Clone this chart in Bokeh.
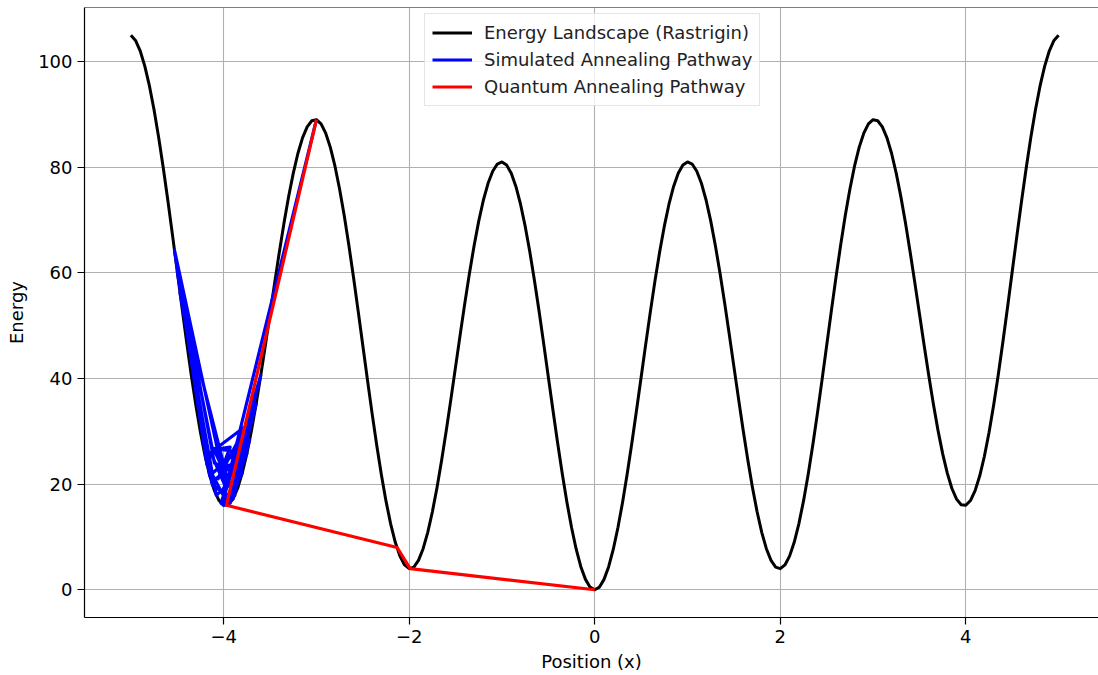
from bokeh.plotting import figure
from bokeh.models import Range1d, Legend, LegendItem, CustomJSTickFormatter, FixedTicker, Span
from bokeh.embed import file_html
from bokeh.resources import INLINE

# ---- data ----
position = [round(-5 + 0.05 * i, 2) for i in range(201)]
energy = [
    105.00, 104.01, 102.05, 99.16, 95.40, 90.85, 85.60, 79.78, 73.52, 66.96,
    60.25, 53.55, 47.00, 40.76, 34.98, 29.78, 25.28, 21.58, 18.77, 16.89,
    16.00, 16.09, 17.17, 19.18, 22.08, 25.78, 30.18, 35.16, 40.60, 46.35,
    52.25, 58.16, 63.92, 69.38, 74.40, 78.85, 82.60, 85.56, 87.65, 88.81,
    89.00, 88.21, 86.45, 83.76, 80.20, 75.85, 70.80, 65.18, 59.12, 52.76,
    46.25, 39.75, 33.40, 27.36, 21.78, 16.78, 12.48, 8.98, 6.37, 4.70,
    4.00, 4.30, 5.57, 7.78, 10.88, 14.78, 19.38, 24.56, 30.20, 36.15,
    42.25, 48.36, 54.32, 59.98, 65.20, 69.85, 73.80, 76.96, 79.25, 80.61,
    81.00, 80.41, 78.85, 76.36, 73.00, 68.85, 64.00, 58.58, 52.72, 46.56,
    40.25, 33.95, 27.80, 21.96, 16.58, 11.78, 7.68, 4.38, 1.97, 0.49,
    0.00,
    0.49, 1.97, 4.38, 7.68, 11.78, 16.58, 21.96, 27.80, 33.95, 40.25,
    46.56, 52.72, 58.58, 64.00, 68.85, 73.00, 76.36, 78.85, 80.41, 81.00,
    80.61, 79.25, 76.96, 73.80, 69.85, 65.20, 59.98, 54.32, 48.36, 42.25,
    36.15, 30.20, 24.56, 19.38, 14.78, 10.88, 7.78, 5.57, 4.30, 4.00,
    4.70, 6.37, 8.98, 12.48, 16.78, 21.78, 27.36, 33.40, 39.75, 46.25,
    52.76, 59.12, 65.18, 70.80, 75.85, 80.20, 83.76, 86.45, 88.21, 89.00,
    88.81, 87.65, 85.56, 82.60, 78.85, 74.40, 69.38, 63.92, 58.16, 52.25,
    46.35, 40.60, 35.16, 30.18, 25.78, 22.08, 19.18, 17.17, 16.09, 16.00,
    16.89, 18.77, 21.58, 25.28, 29.78, 34.98, 40.76, 47.00, 53.55, 60.25,
    66.96, 73.52, 79.78, 85.60, 90.85, 95.40, 99.16, 102.05, 104.01, 105.00,
]

sa_x = [-3.00, -4.02, -3.60, -3.95, -4.18, -4.53, -4.12, -3.90, -3.72, -4.15,
        -4.50, -4.12, -3.93, -4.06, -3.76, -4.14, -3.98, -4.52, -4.10, -3.90,
        -4.02, -3.82, -4.11, -3.96, -4.47, -4.08, -3.80, -4.00, -3.75, -4.13,
        -3.87, -4.04, -3.88, -4.03, -3.65, -3.93, -3.97]
sa_e = [89.00, 16.24, 40.60, 16.09, 23.70, 64.30, 19.78, 17.17, 28.34, 21.58,
        60.25, 26.50, 27.00, 21.00, 31.00, 26.00, 19.50, 63.50, 24.00, 22.50,
        18.50, 26.00, 26.80, 21.00, 56.22, 17.91, 22.08, 16.00, 25.78, 20.35,
        24.00, 23.00, 17.86, 16.42, 35.16, 16.40, 15.94]

qa_x = [-3.00, -3.97, -2.13, -1.99, 0.00]
qa_e = [89.00, 16.00, 8.00, 4.00, 0.00]

x_ticks = [-4, -2, 0, 2, 4]
y_ticks = [0, 20, 40, 60, 80, 100]

FONT = "DejaVu Sans"
FS = "18px"

p = figure(width=1098, height=675, output_backend="svg", toolbar_location=None,
           x_range=Range1d(-5.5, 5.43), y_range=Range1d(-5.25, 110.25),
           min_border_left=84, min_border_right=0, min_border_top=7,
           min_border_bottom=58, background_fill_color="white")
p.outline_line_color = None

r1 = p.line(position, energy, line_color="black", line_width=3, line_join="round")
r2 = p.line(sa_x, sa_e, line_color="#0000ff", line_width=3.2, line_join="round")
r3 = p.line(qa_x, qa_e, line_color="#ff0000", line_width=3.2, line_join="round")

p.add_layout(Span(location=110.25, dimension="width", line_color="black", line_width=1.2))

p.xaxis.ticker = FixedTicker(ticks=x_ticks)
p.yaxis.ticker = FixedTicker(ticks=y_ticks)
p.xaxis.formatter = CustomJSTickFormatter(
    code="return tick < 0 ? '\u2212' + Math.abs(tick) : String(tick);")

for ax in (p.xaxis, p.yaxis):
    ax.axis_line_color = "black"
    ax.axis_line_width = 1.2
    ax.major_tick_line_color = "black"
    ax.major_tick_line_width = 1.2
    ax.major_tick_out = 7
    ax.major_tick_in = 0
    ax.minor_tick_line_color = None
    ax.major_label_text_font = FONT
    ax.major_label_text_font_size = FS
    ax.major_label_text_color = "black"
    ax.major_label_standoff = 5
    ax.axis_label_text_font = FONT
    ax.axis_label_text_font_size = FS
    ax.axis_label_text_font_style = "normal"
    ax.axis_label_text_color = "black"

p.xaxis.axis_label = "Position (x)"
p.yaxis.axis_label = "Energy"
p.xaxis.axis_label_standoff = 5
p.yaxis.axis_label_standoff = 8

for g in (p.xgrid, p.ygrid):
    g.grid_line_color = "#b0b0b0"
    g.grid_line_width = 1.1

legend = Legend(items=[
    LegendItem(label="Energy Landscape (Rastrigin)", renderers=[r1]),
    LegendItem(label="Simulated Annealing Pathway", renderers=[r2]),
    LegendItem(label="Quantum Annealing Pathway", renderers=[r3]),
], location=(340, 511))
legend.label_text_font = FONT
legend.label_text_font_size = FS
legend.label_text_color = "#222222"
legend.glyph_width = 40
legend.glyph_height = 23
legend.label_height = 23
legend.spacing = 4
legend.padding = 7
legend.margin = 0
legend.label_standoff = 12
legend.border_line_color = "#cccccc"
legend.border_line_width = 1
legend.background_fill_alpha = 0.8
p.add_layout(legend)

open("out.html", "w").write(file_html(p, INLINE))
